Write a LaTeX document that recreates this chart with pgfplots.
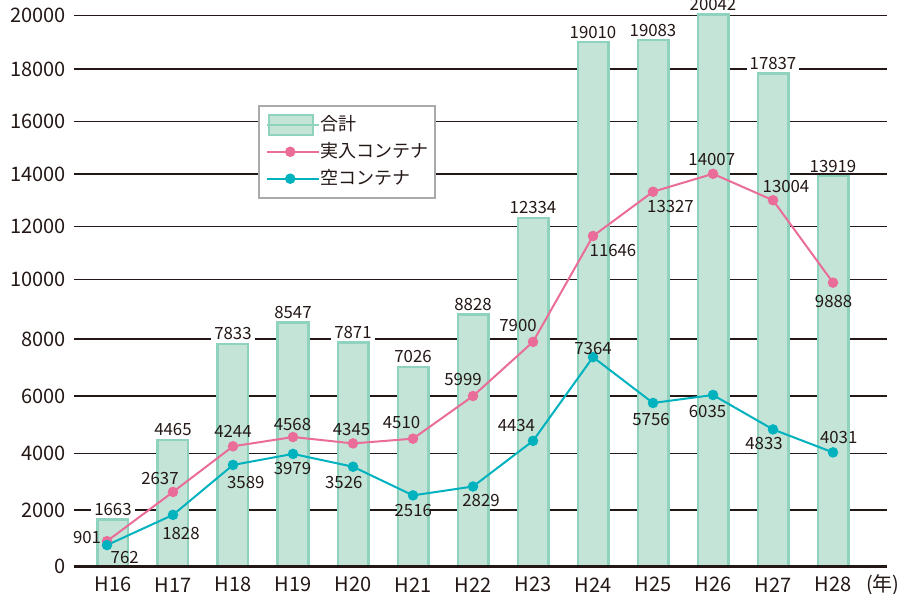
\documentclass[border=0pt]{standalone}
\usepackage{pgfplots}
\pgfplotsset{compat=1.18}
\usepackage{pgfplotstable}
\usepackage{fontspec}
\setmainfont{Noto Sans CJK JP}
\definecolor{barfill}{HTML}{C4E4D8}
\definecolor{barline}{HTML}{8FD2BE}
\definecolor{pinkc}{HTML}{EA6C98}
\definecolor{tealc}{HTML}{00B2BE}
\definecolor{txt}{HTML}{231815}
\definecolor{lgray}{HTML}{AAAAAA}
% piecewise linear vertical scale, as in the reference picture
\def\ymap#1{%
\ifnum#1<2000 \edef\pgfmathresult{\the\numexpr (#1)*5670/2000\relax}%
\else\ifnum#1<4000 \edef\pgfmathresult{\the\numexpr 5670+(#1-2000)*5670/2000\relax}%
\else\ifnum#1<6000 \edef\pgfmathresult{\the\numexpr 11340+(#1-4000)*5730/2000\relax}%
\else\ifnum#1<8000 \edef\pgfmathresult{\the\numexpr 17070+(#1-6000)*5700/2000\relax}%
\else\ifnum#1<10000 \edef\pgfmathresult{\the\numexpr 22770+(#1-8000)*5970/2000\relax}%
\else\ifnum#1<12000 \edef\pgfmathresult{\the\numexpr 28740+(#1-10000)*5260/2000\relax}%
\else\ifnum#1<14000 \edef\pgfmathresult{\the\numexpr 34000+(#1-12000)*5270/2000\relax}%
\else\ifnum#1<16000 \edef\pgfmathresult{\the\numexpr 39270+(#1-14000)*5230/2000\relax}%
\else\ifnum#1<18000 \edef\pgfmathresult{\the\numexpr 44500+(#1-16000)*5270/2000\relax}%
\else \edef\pgfmathresult{\the\numexpr 49770+(#1-18000)*5330/2000\relax}%
\fi\fi\fi\fi\fi\fi\fi\fi\fi}

\pgfplotstableread{
x y lab
0 1663 1663
1 4465 4465
2 7833 7833
3 8547 8547
4 7871 7871
5 7026 7026
6 8828 8828
7 12334 12334
8 19010 19010
9 19083 19083
10 20042 20042
11 17837 17837
12 13919 13919
}\totaltable

\pgfplotstableread{
x y lab dx dy
-0.1 901 901 -10 2
1 2637 2637 -6.5 6.5
2 4244 4244 0 7.4
3 4568 4568 -0.25 6.5
4 4345 4345 -0.75 7.2
5 4510 4510 -5.75 7.85
6 5999 5999 -5 8.5
7 7900 7900 -7.5 8
8 11646 11646 10 -7.5
9 13327 13327 8.75 -7.2
10 14007 14007 -0.6 7.4
11 13004 13004 6.5 7
12 9888 9888 0.3 -9.2
}\pinktable

\pgfplotstableread{
x y lab dx dy
-0.1 762 762 8.85 -6.2
1 1828 1828 4 -9.5
2 3589 3589 6.4 -9
3 3979 3979 -0.25 -7.45
4 3526 3526 -4.6 -7.65
5 2516 2516 0.15 -7.8
6 2829 2829 4 -7.25
7 4434 4434 -8.3 7.5
8 7364 7364 0 4.4
9 5756 5756 -1 -8.15
10 6035 6035 -2.75 -8.35
11 4833 4833 -4.5 -7
12 4031 4031 2.85 7.3
}\tealtable

\newcommand\tickfont{\fontsize{10}{12}\selectfont}
\newcommand\labfont{\fontsize{8.4}{10}\selectfont}
\newcommand\legfont{\fontsize{9}{11}\selectfont}

\pgfplotsset{
  lineleg/.style={legend image code/.code={\draw[mark repeat=2, mark phase=2, ##1] plot coordinates {(0pt,0pt) (11.5pt,0pt) (23pt,0pt)}; \path (0pt,0pt) -- (26pt,0pt);}},
  barleg/.style={legend image code/.code={\draw[fill=barfill, draw=barline, line width=1.25pt] (1pt,-5pt) rectangle (23pt,5pt); \path (0pt,0pt) -- (26pt,0pt);}},
}

\begin{document}
\begin{tikzpicture}
\begin{axis}[
  name=a,
  scale only axis,
  width=406.5pt, height=283.35pt,
  xmin=-0.65, xmax=12.9,
  ymin=0, ymax=20589,
  y coord trafo/.code={\ymap{#1}},
  clip=false,
  axis line style={draw=none},
  major tick length=0pt,
  ymajorgrids,
  grid style={line width=0.6pt, txt},
  ytick={0,2000,4000,6000,8000,10000,12000,14000,16000,18000,20000},
  yticklabels={0,2000,4000,6000,8000,10000,12000,14000,16000,18000,20000},
  yticklabel style={anchor=east, inner sep=0pt, xshift=-4pt, font=\tickfont, text=txt},
  xtick={0,1,2,3,4,5,6,7,8,9,10,11,12},
  xticklabels={H16,H17,H18,H19,H20,H21,H22,H23,H24,H25,H26,H27,H28},
  extra x ticks={12.83},
  extra x tick labels={(年)},
  xticklabel style={anchor=center, inner sep=0pt, yshift=-9pt, font=\tickfont, text=txt},
  legend cell align=left,
  legend style={at={(0.2263,0.8148)}, anchor=north west, draw=lgray, line width=1pt,
    fill=white, inner xsep=3.5pt, inner ysep=2.75pt, font=\legfont, text=txt,
    row sep=0pt, column sep=0pt,
    nodes={inner xsep=0pt, inner ysep=2.1pt, text height=7.3pt, text depth=1.95pt}},
]
\addplot[ybar, bar width=15.25pt, fill=barfill, draw=barline, line width=1.25pt,
  point meta=explicit symbolic, nodes near coords,
  nodes near coords style={anchor=center, yshift=5pt, font=\labfont, text=txt,
    fill=white, inner xsep=1.5pt, inner ysep=0.5pt},
  barleg]
  table[x=x, y=y, meta=lab] {\totaltable};
\addlegendentry{合計}

\addplot[pinkc, line width=1pt, mark=*, mark size=2.1pt, mark options={solid, fill=pinkc, draw=pinkc},
  point meta=explicit symbolic, nodes near coords,
  visualization depends on={\thisrow{dx}\as\mydx},
  visualization depends on={\thisrow{dy}\as\mydy},
  nodes near coords style={anchor=center, xshift=\mydx pt, yshift=\mydy pt, font=\labfont, text=txt, inner sep=0pt},
  lineleg]
  table[x=x, y=y, meta=lab] {\pinktable};
\addlegendentry{実入コンテナ}

\addplot[tealc, line width=1pt, mark=*, mark size=2.1pt, mark options={solid, fill=tealc, draw=tealc},
  point meta=explicit symbolic, nodes near coords,
  visualization depends on={\thisrow{dx}\as\mydx},
  visualization depends on={\thisrow{dy}\as\mydy},
  nodes near coords style={anchor=center, xshift=\mydx pt, yshift=\mydy pt, font=\labfont, text=txt, inner sep=0pt},
  lineleg]
  table[x=x, y=y, meta=lab] {\tealtable};
\addlegendentry{空コンテナ}

\draw[line width=1.4pt, txt] (rel axis cs:0,0) -- (rel axis cs:1,0);
\end{axis}
\pgfresetboundingbox
\path[use as bounding box] ([shift={(-37pt,-13.65pt)}]a.south west) rectangle ([shift={(12pt,0pt)}]a.north east);
\end{tikzpicture}
\end{document}
